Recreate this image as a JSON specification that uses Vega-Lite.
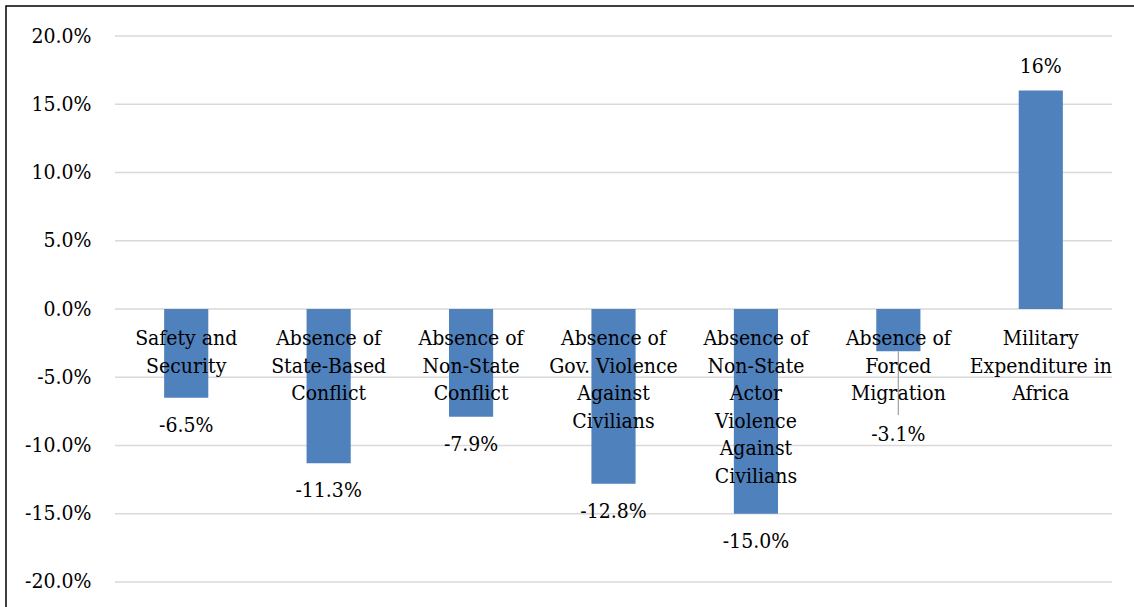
{
  "$schema": "https://vega.github.io/schema/vega-lite/v6.json",
  "width": 1140,
  "height": 610,
  "autosize": {"type": "none"},
  "padding": {"left": 6, "top": 6, "right": 0, "bottom": 0},
  "background": "white",
  "config": {
    "view": {"stroke": "#000000", "strokeWidth": 1.5},
    "locale": {"number": {"decimal": ".", "thousands": ",", "grouping": [3], "currency": ["$", ""], "minus": "-"}},
    "text": {"font": "DejaVu Serif Condensed", "fontSize": 21, "color": "#000000"}
  },
  "datasets": {
    "indicators": [
      {"category": "Safety and\nSecurity", "value": -0.065},
      {"category": "Absence of\nState-Based\nConflict", "value": -0.113},
      {"category": "Absence of\nNon-State\nConflict", "value": -0.079},
      {"category": "Absence of\nGov. Violence\nAgainst\nCivilians", "value": -0.128},
      {"category": "Absence of\nNon-State\nActor\nViolence\nAgainst\nCivilians", "value": -0.150},
      {"category": "Absence of\nForced\nMigration", "value": -0.031},
      {"category": "Military\nExpenditure in\nAfrica", "value": 0.16}
    ],
    "gridlines": [
      {"tick": -0.2}, {"tick": -0.15}, {"tick": -0.1}, {"tick": -0.05}, {"tick": 0},
      {"tick": 0.05}, {"tick": 0.1}, {"tick": 0.15}, {"tick": 0.2}
    ]
  },
  "layer": [
    {
      "data": {"name": "gridlines"},
      "mark": {"type": "rule", "color": "#d9d9d9", "strokeWidth": 1.5},
      "encoding": {
        "x": {"datum": 0, "type": "quantitative", "scale": {"domain": [0, 1], "range": [109, 1106]}, "axis": null},
        "x2": {"datum": 1},
        "y": {
          "field": "tick",
          "type": "quantitative",
          "scale": {"domain": [-0.22491, 0.22198], "nice": false, "zero": false},
          "axis": {
            "values": [-0.2, -0.15, -0.1, -0.05, 0, 0.05, 0.1, 0.15, 0.2],
            "format": ".1%",
            "title": null,
            "domain": false,
            "ticks": false,
            "tickSize": 0,
            "grid": false,
            "offset": -85,
            "labelPadding": 0,
            "labelAlign": "right",
            "labelBaseline": "middle",
            "labelFont": "DejaVu Serif Condensed",
            "labelFontSize": 21,
            "labelColor": "#000000"
          }
        }
      }
    },
    {
      "data": {"name": "indicators"},
      "encoding": {
        "x": {
          "field": "category",
          "type": "nominal",
          "sort": null,
          "scale": {"type": "band", "range": [109, 1106], "paddingInner": 0.69, "paddingOuter": 0.345},
          "axis": null
        }
      },
      "layer": [
        {
          "mark": {"type": "bar", "color": "#4f81bd"},
          "encoding": {
            "y": {"field": "value", "type": "quantitative"},
            "y2": {"datum": 0}
          }
        },
        {
          "transform": [{"filter": "indexof(datum.category, 'Forced') >= 0"}],
          "mark": {"type": "rule", "color": "#a6a6a6", "strokeWidth": 1.3},
          "encoding": {
            "y": {"field": "value", "type": "quantitative"},
            "y2": {"datum": -0.0777}
          }
        },
        {
          "mark": {"type": "text", "lineBreak": "\n", "baseline": "alphabetic", "align": "center", "dy": 36, "lineHeight": 27.5},
          "encoding": {
            "y": {"datum": 0, "type": "quantitative"},
            "text": {"field": "category"}
          }
        },
        {
          "transform": [{"filter": "datum.value < 0 && indexof(datum.category, 'Forced') < 0"}],
          "mark": {"type": "text", "baseline": "alphabetic", "align": "center", "dy": 34},
          "encoding": {
            "y": {"field": "value", "type": "quantitative"},
            "text": {"field": "value", "type": "quantitative", "format": ".1%"}
          }
        },
        {
          "transform": [{"filter": "indexof(datum.category, 'Forced') >= 0"}],
          "mark": {"type": "text", "baseline": "alphabetic", "align": "center", "dy": 90},
          "encoding": {
            "y": {"field": "value", "type": "quantitative"},
            "text": {"field": "value", "type": "quantitative", "format": ".1%"}
          }
        },
        {
          "transform": [{"filter": "datum.value > 0"}],
          "mark": {"type": "text", "baseline": "alphabetic", "align": "center", "dy": -18},
          "encoding": {
            "y": {"field": "value", "type": "quantitative"},
            "text": {"field": "value", "type": "quantitative", "format": ".0%"}
          }
        }
      ]
    }
  ],
  "resolve": {"scale": {"x": "independent"}}
}
